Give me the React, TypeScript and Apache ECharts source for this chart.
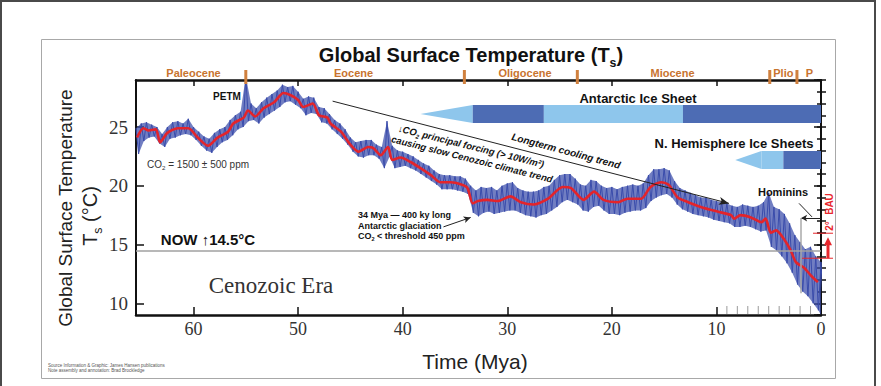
import React, { useEffect, useRef } from "react";
import * as echarts from "echarts";

const SANS = "'Liberation Sans', Arial, 'DejaVu Sans', sans-serif";
const SERIF = "'Liberation Serif', 'Times New Roman', serif";

const AGE_MIN = 0;
const AGE_MAX = 65.5;
const TEMP_MIN = 9;
const TEMP_MAX = 29;

// smoothed curve (red)
const RED_AGE = [65.4, 64.8, 64.3, 63.6, 63.2, 62.5, 61.5, 60.5, 59.6, 58.6, 57.7, 56.7, 56.2, 55.2, 54.8, 54.1, 53.3, 52.3, 51.4, 50.7, 50.0, 49.5, 48.6, 48.0, 47.2, 46.9, 45.9, 45.0, 44.2, 43.3, 42.8, 42.1, 41.4, 41.0, 40.2, 39.2, 38.3, 37.3, 36.4, 35.4, 34.4, 33.8, 33.3, 32.8, 31.9, 30.9, 29.7, 28.7, 27.5, 26.1, 24.7, 23.9, 22.7, 21.7, 20.8, 19.4, 18.5, 17.2, 16.3, 15.3, 14.6, 13.7, 12.7, 11.5, 9.9, 8.6, 8.3, 7.7, 6.7, 5.7, 5.3, 4.8, 4.3, 3.5, 2.9, 2.4, 1.6, 1.0, 0.3];
const RED_TEMP = [24.1, 24.9, 24.7, 24.8, 23.7, 24.5, 24.9, 24.9, 24.1, 23.4, 24.1, 24.6, 25.3, 25.8, 26.4, 25.9, 26.6, 27.1, 27.9, 27.7, 27.3, 26.7, 27.0, 26.0, 25.8, 25.3, 24.6, 23.5, 22.9, 23.3, 23.2, 22.6, 23.3, 22.2, 22.4, 22.0, 21.5, 20.9, 20.3, 20.3, 20.1, 19.8, 18.5, 18.7, 18.8, 18.7, 19.1, 18.6, 18.4, 18.9, 19.9, 19.8, 18.8, 19.5, 18.8, 18.6, 18.9, 18.9, 19.9, 20.3, 20.1, 19.0, 18.6, 18.2, 17.8, 17.5, 17.2, 17.5, 17.3, 16.9, 17.2, 16.0, 16.2, 15.4, 14.5, 13.5, 13.0, 12.4, 11.8];

// raw record (blue): high and low excursions every 0.5 Myr from 65.5 Mya to 0
const BLUE_FIRST_AGE = 65.5;
const BLUE_STEP = 0.5;
const BLUE_HIGH = [
  24.9, 25.3, 25.4, 25.2, 25.0, 24.4, 25.0, 25.4, 25.5, 25.3, 25.7, 25.0, 24.6, 24.2, 24.0, 24.5, 24.8, 25.0, 25.6, 26.0,
  26.3, 29.3, 27.0, 26.6, 27.1, 27.5, 27.8, 28.1, 28.6, 28.4, 28.5, 28.0, 27.4, 27.6, 27.5, 26.7, 26.6, 26.1, 25.6, 25.3,
  24.8, 24.1, 23.7, 23.8, 23.9, 23.9, 23.5, 23.3, 25.5, 23.4, 23.0, 22.9, 22.7, 22.5, 22.2, 21.9, 21.7, 21.3, 21.0, 20.9,
  20.9, 20.8, 20.8, 20.6, 20.0, 19.6, 19.9, 19.8, 19.9, 19.6, 20.0, 20.2, 20.3, 19.8, 19.6, 19.5, 19.5, 19.6, 19.9, 20.0,
  20.5, 20.9, 21.0, 21.0, 20.6, 20.1, 20.0, 20.5, 20.4, 20.0, 19.8, 19.9, 19.7, 19.9, 20.0, 20.1, 20.0, 20.2, 20.9, 21.4,
  21.4, 21.5, 21.3, 20.4, 19.8, 19.6, 19.4, 19.2, 19.0, 19.0, 18.8, 18.7, 18.6, 18.5, 18.3, 18.2, 18.4, 18.3, 18.2, 18.3,
  18.6, 19.4, 18.2, 18.0, 17.6, 16.8, 15.8, 15.2, 14.6, 14.8, 14.0, 13.5
];
const BLUE_LOW = [
  22.7, 23.8, 24.1, 24.2, 23.6, 23.3, 24.0, 24.1, 24.3, 24.4, 24.3, 23.9, 23.4, 23.0, 22.8, 23.3, 23.7, 23.9, 24.3, 24.8,
  25.0, 25.5, 25.6, 25.3, 25.8, 26.1, 26.4, 26.7, 27.1, 27.2, 26.9, 26.6, 26.0, 26.2, 26.1, 25.4, 25.3, 24.8, 24.4, 24.0,
  23.5, 22.9, 22.5, 22.4, 22.6, 22.6, 22.3, 21.5, 22.5, 21.5, 21.6, 21.7, 21.5, 21.3, 21.0, 20.7, 20.4, 20.1, 19.7, 19.7,
  19.7, 19.6, 19.5, 19.3, 17.7, 17.4, 17.7, 17.8, 17.6, 17.7, 17.8, 17.9, 17.9, 17.7, 17.5, 17.4, 17.3, 17.5, 17.6, 17.9,
  18.2, 18.6, 18.8, 18.6, 18.4, 17.9, 17.8, 18.2, 18.3, 17.9, 17.6, 17.6, 17.5, 17.7, 17.8, 17.9, 17.9, 18.1, 18.7, 19.0,
  19.2, 19.3, 19.0, 18.4, 18.0, 17.8, 17.6, 17.5, 17.4, 17.3, 17.1, 17.0, 16.9, 16.8, 16.5, 16.5, 16.6, 16.5, 16.3, 16.1,
  16.2, 14.8, 14.5, 14.0, 13.4, 12.6, 11.6, 11.0, 10.6, 10.0, 9.4, 9.0
];

const X_MAJOR_INTERVAL = 10;
const FINE_TICK_AGE = [1, 2, 3, 4, 5, 6, 7, 8, 9];
const NOW_TEMP = 14.5;

const EPOCH_NAMES = ["Paleocene", "Eocene", "Oligocene", "Miocene", "Plio", "P"];
const EPOCH_LABEL_AGE = [60.0, 44.7, 28.3, 14.2, 3.6, 1.1];
const EPOCH_BOUNDARY_AGE = [55.0, 34.1, 23.3, 4.9, 2.3];

const ANT_WEDGE_TIP = 38.3;
const ANT_WEDGE_FULL = 33.3;
const ANT_SEG_FROM = [33.3, 26.5, 13.2];
const ANT_SEG_TO = [26.5, 13.2, 0];
const ANT_SEG_SHADE = ["dark", "light", "dark"];

const NH_WEDGE_TIP = 8.2;
const NH_WEDGE_FULL = 5.7;
const NH_SEG_FROM = [5.7, 3.6];
const NH_SEG_TO = [3.6, 0];
const NH_SEG_SHADE = ["light", "dark"];

const TREND_ARROW = [[46.7, 27.2], [8.8, 18.5]];
const GLACIATION_ARROW = [[36.1, 16.5], [33.5, 17.3]];
const HOMININ_AGE = 1.9;
const HOMININ_TEMP = 17.25;
const HOMININ_BASE_TEMP = 10.85;
const HOMININ_LEADER = [[2.1, 18.5], [0.86, 17.35]];
const BAU_BASE_TEMP = 13.83;
const BAU_TOP_TEMP = 15.96;

const SHADE: Record<string, string> = { dark: "#4d6cb4", light: "#8ec6ec" };
const BLUE = "#3a4cab";

export default function App() {
  const ref = useRef<HTMLDivElement>(null);

  useEffect(() => {
    if (!ref.current) return;
    const chart = echarts.init(ref.current, null, { renderer: "svg" });

    const blueData: number[][] = [];
    BLUE_HIGH.forEach((hi, i) => {
      const age = BLUE_FIRST_AGE - i * BLUE_STEP;
      blueData.push([age, hi]);
      blueData.push([age - BLUE_STEP / 2, BLUE_LOW[i]]);
    });
    const redData = RED_AGE.map((a, i) => [a, RED_TEMP[i]]);

    const tickStyle = (len: number, color = "#111") => ({
      show: true,
      inside: true,
      length: len,
      lineStyle: { color, width: 1.5 },
    });

    const yBase = {
      type: "value",
      min: TEMP_MIN,
      max: TEMP_MAX,
      splitLine: { show: false },
      axisLine: { show: true, onZero: false, lineStyle: { color: "#111", width: 2 } },
    };

    const lineItem = (a: number[], b: number[], color: string, width: number, arrow: boolean, size?: number[]) => [
      { coord: a, symbol: "none", lineStyle: { color, width, type: "solid" } },
      { coord: b, symbol: arrow ? "arrow" : "none", symbolSize: size || [6, 9] },
    ];

    chart.setOption({
      animation: false,
      backgroundColor: "#fff",
      grid: { left: 136, right: 60, top: 80, bottom: 71, containLabel: false, outerBoundsMode: "none" },
      xAxis: [
        {
          type: "value",
          min: AGE_MIN,
          max: AGE_MAX,
          inverse: true,
          interval: X_MAJOR_INTERVAL,
          position: "bottom",
          splitLine: { show: false },
          axisLine: { onZero: false, lineStyle: { color: "#111", width: 2.5 } },
          axisTick: tickStyle(8),
          axisLabel: {
            margin: 5,
            fontFamily: SERIF,
            fontSize: 18,
            color: "#333",
            formatter: (v: number) => (v % X_MAJOR_INTERVAL === 0 ? String(v) : ""),
          },
        },
        {
          type: "value",
          min: AGE_MIN,
          max: AGE_MAX,
          inverse: true,
          interval: X_MAJOR_INTERVAL,
          position: "top",
          splitLine: { show: false },
          axisLine: { onZero: false, lineStyle: { color: "#111", width: 2.5 } },
          axisTick: tickStyle(6),
          axisLabel: { show: false },
        },
      ],
      yAxis: [
        {
          ...yBase,
          position: "left",
          splitNumber: 4,
          axisTick: tickStyle(8),
          axisLabel: {
            margin: 8,
            fontFamily: SERIF,
            fontSize: 19,
            color: "#333",
            showMinLabel: false,
            showMaxLabel: false,
            formatter: (v: number) => (v % 5 === 0 ? String(v) : ""),
          },
        },
        {
          ...yBase,
          position: "left",
          interval: 1,
          axisLine: { show: false },
          axisTick: tickStyle(5),
          axisLabel: { show: false },
        },
        {
          ...yBase,
          position: "right",
          splitNumber: 4,
          axisTick: tickStyle(7),
          axisLabel: { show: false },
        },
        {
          ...yBase,
          position: "right",
          interval: 1,
          axisLine: { show: false },
          axisTick: tickStyle(4),
          axisLabel: { show: false },
        },
      ],
      series: [
        {
          type: "line",
          data: blueData,
          symbol: "none",
          showSymbol: false,
          clip: true,
          lineStyle: { color: BLUE, width: 1 },
          z: 2,
        },
        {
          type: "custom",
          data: [[30, 20]],
          clip: true,
          silent: true,
          z: 1,
          renderItem: (_params: any, api: any) => {
            const pts: number[][] = [];
            BLUE_HIGH.forEach((v, i) => pts.push(api.coord([BLUE_FIRST_AGE - i * BLUE_STEP, v])));
            for (let i = BLUE_LOW.length - 1; i >= 0; i--) {
              pts.push(api.coord([Math.max(AGE_MIN, BLUE_FIRST_AGE - i * BLUE_STEP - BLUE_STEP / 2), BLUE_LOW[i]]));
            }
            return { type: "polygon", shape: { points: pts }, style: { fill: BLUE, opacity: 0.72 } };
          },
        },
        {
          type: "line",
          data: redData,
          symbol: "none",
          showSymbol: false,
          smooth: 0.25,
          clip: true,
          lineStyle: { color: "#e3242b", width: 2.6 },
          z: 3,
          markLine: {
            silent: true,
            animation: false,
            symbol: ["none", "none"],
            label: { show: false },
            data: [
              { yAxis: NOW_TEMP, lineStyle: { color: "#a0a0a0", width: 1.5, type: "solid" } },
              lineItem(TREND_ARROW[0], TREND_ARROW[1], "#222", 1, true, [6, 10]),
              lineItem(GLACIATION_ARROW[0], GLACIATION_ARROW[1], "#222", 1, true, [5, 7]),
              lineItem([AGE_MIN, HOMININ_TEMP], [HOMININ_AGE, HOMININ_TEMP], "#222", 1, true, [5, 6]),
              lineItem(HOMININ_LEADER[0], HOMININ_LEADER[1], "#222", 1, false),
              lineItem([HOMININ_AGE, HOMININ_TEMP], [HOMININ_AGE, HOMININ_BASE_TEMP], "#aaaaaa", 1.5, false),
            ],
          },
        },
      ],
    });

    const pt = (a: number, t: number) => chart.convertToPixel({ seriesIndex: 0 }, [a, t]) as number[];
    const xOf = (a: number) => pt(a, 20)[0];
    const yOf = (t: number) => pt(30, t)[1];
    const plotBottom = yOf(TEMP_MIN);
    const plotTop = yOf(TEMP_MAX);

    const g: any[] = [];
    const text = (x: number, y: number, str: string, o: any = {}, extra: any = {}) =>
      g.push({
        type: "text",
        x,
        y,
        silent: true,
        z: 50,
        ...extra,
        style: {
          text: str,
          fontFamily: SANS,
          fontSize: 10,
          fontWeight: "normal",
          fill: "#111",
          align: "center",
          verticalAlign: "middle",
          ...o,
        },
      });
    const subRich = (size: number, weight: string, color: string, family = SANS, style = "normal") => ({
      n: { fontSize: size, fontWeight: weight, fontFamily: family, fill: color, fontStyle: style, verticalAlign: "bottom", padding: [0, 0, size * 0.18, 0] },
      s: { fontSize: size * 0.62, fontWeight: weight, fontFamily: family, fill: color, fontStyle: style, verticalAlign: "bottom" },
    });

    // frames
    g.push({ type: "rect", silent: true, z: 1, shape: { x: 1, y: 1, width: 874, height: 400 }, style: { fill: "none", stroke: "#4a4a4a", lineWidth: 2 } });
    g.push({ type: "rect", silent: true, z: 1, shape: { x: 41.5, y: 39.5, width: 794, height: 339 }, style: { fill: "none", stroke: "#a8a8a8", lineWidth: 1 } });

    // title & axis names
    text(471, 57, "{n|Global Surface Temperature (T}{s|s}{n|)}", { rich: subRich(20, "bold", "#111") });
    text(65, 208, "Global Surface Temperature", { fontSize: 19, fill: "#222" }, { rotation: Math.PI / 2 });
    text(92, 216, "{n|T}{s|s}{n| (°C)}", { rich: subRich(20, "normal", "#222") }, { rotation: Math.PI / 2 });
    text(475, 361, "Time (Mya)", { fontSize: 21, fill: "#222" });

    // epochs
    EPOCH_NAMES.forEach((name, i) => {
      text(xOf(EPOCH_LABEL_AGE[i]), 73, name, { fontSize: 11, fontWeight: "bold", fill: "#c8742f" });
    });
    EPOCH_BOUNDARY_AGE.forEach((a) => {
      g.push({ type: "rect", silent: true, z: 40, shape: { x: xOf(a) - 1.5, y: plotTop - 10, width: 3, height: 14 }, style: { fill: "#d0803e" } });
    });

    // fine ticks between 10 and 0 Mya
    FINE_TICK_AGE.forEach((a) => {
      g.push({ type: "line", silent: true, z: 40, shape: { x1: xOf(a), y1: plotBottom - 1, x2: xOf(a), y2: plotBottom - 9 }, style: { stroke: "#9a9a9a", lineWidth: 1 } });
    });

    // ice sheets
    const antTop = 105, antBot = 123;
    g.push({ type: "polygon", silent: true, z: 20, shape: { points: [[xOf(ANT_WEDGE_TIP), (antTop + antBot) / 2], [xOf(ANT_WEDGE_FULL), antTop], [xOf(ANT_WEDGE_FULL), antBot]] }, style: { fill: SHADE.light } });
    ANT_SEG_FROM.forEach((from, i) => {
      const x0 = xOf(from), x1 = xOf(ANT_SEG_TO[i]);
      g.push({ type: "rect", silent: true, z: 20, shape: { x: x0, y: antTop, width: x1 - x0, height: antBot - antTop }, style: { fill: SHADE[ANT_SEG_SHADE[i]] } });
    });
    text(638, 98, "Antarctic Ice Sheet", { fontSize: 13, fontWeight: "bold" });

    const nhTop = 151, nhBot = 169;
    g.push({ type: "polygon", silent: true, z: 20, shape: { points: [[xOf(NH_WEDGE_TIP), (nhTop + nhBot) / 2], [xOf(NH_WEDGE_FULL), nhTop], [xOf(NH_WEDGE_FULL), nhBot]] }, style: { fill: SHADE.light } });
    NH_SEG_FROM.forEach((from, i) => {
      const x0 = xOf(from), x1 = xOf(NH_SEG_TO[i]);
      g.push({ type: "rect", silent: true, z: 20, shape: { x: x0, y: nhTop, width: x1 - x0, height: nhBot - nhTop }, style: { fill: SHADE[NH_SEG_SHADE[i]] } });
    });
    text(734, 143, "N. Hemisphere Ice Sheets", { fontSize: 13, fontWeight: "bold" });

    // annotations
    text(227, 96, "PETM", { fontSize: 10, fontWeight: "bold" });
    text(147, 165, "{n|CO}{s|2}{n| = 1500 ± 500 ppm}", { align: "left", rich: subRich(10, "normal", "#333") });
    text(208, 239, "NOW ↑14.5°C", { fontSize: 15, fontWeight: "bold" });
    text(271, 285, "Cenozoic Era", { fontFamily: SERIF, fontSize: 23, fill: "#333" });
    text(358, 215, "34 Mya — 400 ky long", { align: "left", fontSize: 9, fontWeight: "bold" });
    text(358, 226, "Antarctic glaciation", { align: "left", fontSize: 9, fontWeight: "bold" });
    text(358, 237, "{n|CO}{s|2}{n| < threshold 450 ppm}", { align: "left", rich: subRich(9, "bold", "#111") });
    text(566, 151, "Longterm cooling trend", { fontSize: 10, fontWeight: "bold", fontStyle: "italic" }, { rotation: -0.262 });
    text(471, 147, "{n|↓CO}{s|2}{n| principal forcing (> 10W/m²)}", { rich: subRich(9.5, "bold", "#111", SANS, "italic") }, { rotation: -0.244 });
    text(472, 159, "causing slow Cenozoic climate trend", { fontSize: 9.5, fontWeight: "bold", fontStyle: "italic" }, { rotation: -0.248 });
    text(783, 192, "Hominins", { fontSize: 11, fontWeight: "bold" });

    // BAU marker
    const xAxisRight = xOf(AGE_MIN);
    const yBase0 = yOf(BAU_BASE_TEMP), yTop0 = yOf(BAU_TOP_TEMP);
    const red = "#e8262c";
    g.push({ type: "line", silent: true, z: 45, shape: { x1: xAxisRight - 19, y1: yBase0, x2: xAxisRight + 12, y2: yBase0 }, style: { stroke: red, lineWidth: 1 } });
    g.push({ type: "line", silent: true, z: 45, shape: { x1: xAxisRight - 8, y1: yTop0, x2: xAxisRight + 12, y2: yTop0 }, style: { stroke: red, lineWidth: 1 } });
    g.push({ type: "line", silent: true, z: 45, shape: { x1: xAxisRight + 7, y1: yBase0, x2: xAxisRight + 7, y2: yTop0 + 11 }, style: { stroke: red, lineWidth: 3 } });
    g.push({ type: "polygon", silent: true, z: 45, shape: { points: [[xAxisRight + 3, yTop0 + 12], [xAxisRight + 11, yTop0 + 12], [xAxisRight + 7, yTop0 + 4]] }, style: { fill: red } });
    text(xAxisRight + 8, 226, "2°", { fontSize: 10, fontWeight: "bold", fill: red }, { rotation: Math.PI / 2 });
    text(xAxisRight + 8, 204, "BAU", { fontSize: 10, fontWeight: "bold", fill: red }, { rotation: Math.PI / 2 });

    // source
    text(48, 365, "Source Information & Graphic: James Hansen publications", { align: "left", fontSize: 4.5, fill: "#555" });
    text(48, 370, "Note assembly and annotation: Brad Brockledge", { align: "left", fontSize: 4.5, fill: "#555" });

    chart.setOption({ graphic: { elements: g } });

    return () => chart.dispose();
  }, []);

  return <div ref={ref} style={{ position: "absolute", left: 0, top: 0, width: 881, height: 386, background: "#fff" }} />;
}
